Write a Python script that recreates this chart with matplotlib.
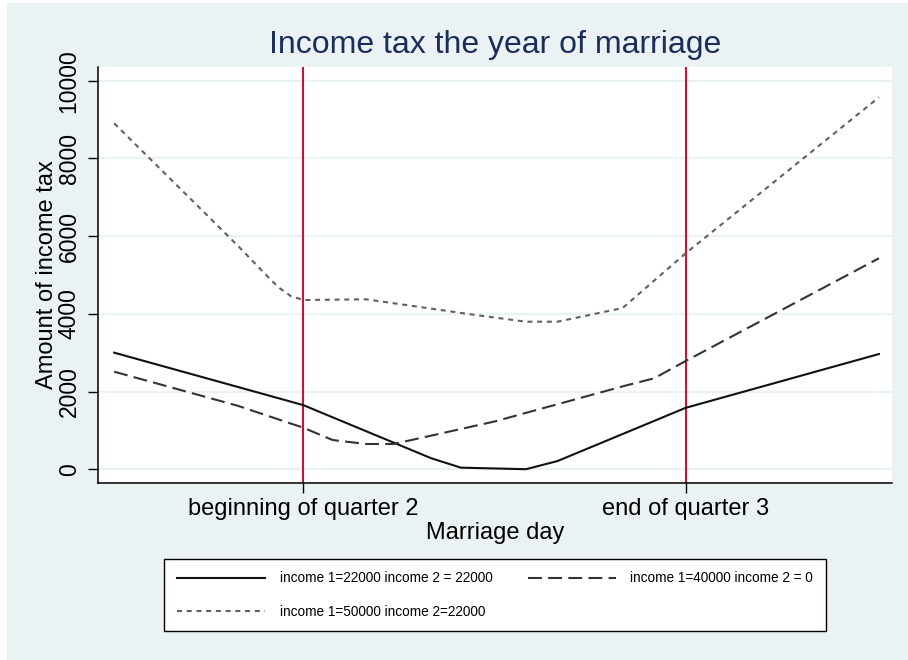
import numpy as np
import matplotlib
matplotlib.use("Agg")
from matplotlib import pyplot as plt
from matplotlib.patches import Rectangle

plt.rcParams['font.family'] = ['Liberation Sans', 'DejaVu Sans']
plt.rcParams['lines.scale_dashes'] = False

# marriage day (day of year, 0 = Jan 1) and income tax for each couple
days_a = [0, 90, 151, 165, 196, 211, 272, 364]
tax_a = [3000, 1650, 280, 40, 0, 210, 1580, 2965]

days_b = [0, 59, 90, 104, 120, 133, 181, 243, 257, 272, 364]
tax_b = [2510, 1630, 1068, 751, 649, 649, 1228, 2147, 2340, 2785, 5430]

days_c = [0, 59, 70, 78, 84, 90, 120, 172, 196, 211, 242, 272, 364]
tax_c = [8904, 5745, 5127, 4690, 4458, 4355, 4373, 3969, 3797, 3797, 4150, 5557, 9573]

labels = ["income 1=22000 income 2 = 22000",
          "income 1=40000 income 2 = 0",
          "income 1=50000 income 2=22000"]

quarter_days = [90, 272]
quarter_labels = ["beginning of quarter 2", "end of quarter 3"]
yticks = [0, 2000, 4000, 6000, 8000, 10000]

bg = "#EAF2F3"
W, H = 908, 660
fig = plt.figure(figsize=(W / 100, H / 100), dpi=100)
fig.patch.set_facecolor("white")
fig.patches.append(Rectangle((7 / W, 0), 1 - 7 / W, 657 / H, transform=fig.transFigure,
                             facecolor=bg, edgecolor="none", zorder=-10))

ax = fig.add_axes([98 / W, 1 - 483 / H, (892 - 98) / W, (483 - 67) / H])
ax.set_facecolor("white")

for y in yticks:
    ax.axhline(y, color=bg, lw=1.6, zorder=0)
for d in quarter_days:
    ax.axvline(d, color="#C8143C", lw=1.5, zorder=1)

l1, = ax.plot(days_a, tax_a, color="#111111", lw=1.5, solid_joinstyle="round")
l2, = ax.plot(days_b, tax_b, color="#333333", lw=1.5, linestyle=(0, (10, 4.5)))
l3, = ax.plot(days_c, tax_c, color="#606060", lw=1.5, linestyle=(0, (3.6, 3.4)))

ax.set_xlim(-7.7, 370.2)
ax.set_ylim(-355, 10353)

ax.set_yticks(yticks)
ax.set_yticklabels([str(v) for v in yticks], rotation=90, va="center", fontsize=16.5)
ax.set_xticks(quarter_days)
ax.set_xticklabels(quarter_labels, fontsize=17)
ax.tick_params(axis="y", length=7.5, width=1, pad=5)
ax.tick_params(axis="x", length=7.5, width=1, pad=3)

for s in ["top", "right"]:
    ax.spines[s].set_visible(False)
for s in ["left", "bottom"]:
    ax.spines[s].set_linewidth(1.1)
    ax.spines[s].set_color("black")

ax.set_xlabel("Marriage day", fontsize=17, labelpad=2)
ax.set_ylabel("Amount of income tax", fontsize=17, labelpad=0)
ax.set_title("Income tax the year of marriage", fontsize=23, color="#1C2D5A", pad=10)

leg = fig.legend([l1, l3, l2], [labels[0], labels[2], labels[1]], ncol=2,
                 loc="center", bbox_to_anchor=(495 / W, 1 - 595 / H),
                 fontsize=9.8, frameon=True, fancybox=False, edgecolor="black",
                 facecolor="white", framealpha=1,
                 handlelength=6.5, handletextpad=1.05, columnspacing=2.6,
                 labelspacing=1.4, borderpad=0.95)
leg.get_frame().set_linewidth(1.0)

fig.savefig("out.png", dpi=100, facecolor=fig.get_facecolor())
